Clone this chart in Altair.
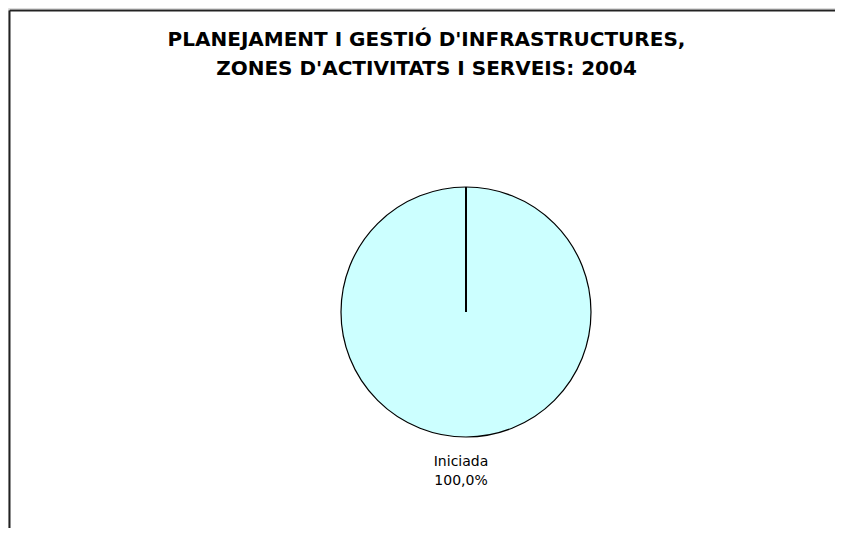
import altair as alt
import pandas as pd

categories = ["Iniciada"]
values = [100.0]
title_lines = ["PLANEJAMENT I GESTIÓ D'INFRASTRUCTURES,", "ZONES D'ACTIVITATS I SERVEIS: 2004"]

df = pd.DataFrame({"cat": categories, "val": values})
df["pct"] = df["val"] / df["val"].sum() * 100
df["label"] = df["cat"] + "\n" + df["pct"].map(lambda v: f"{v:.1f}".replace(".", ",")) + "%"

W, H = 827, 520
CX, CY, R = 458, 304, 125

base = alt.Chart(df)

pie = base.mark_arc(radius=R, stroke="black", strokeWidth=1.2, fill="#CCFFFF").encode(
    theta=alt.Theta("val:Q", stack=True),
    x=alt.value(CX),
    y=alt.value(CY),
)

edge = base.mark_rule(color="black", strokeWidth=2).encode(
    x=alt.value(CX), y=alt.value(CY - R), y2=alt.value(CY)
)

labels = base.mark_text(
    font="DejaVu Sans", fontSize=14, lineBreak="\n", lineHeight=19, align="center",
    baseline="middle", color="black"
).encode(text="label:N", x=alt.value(CX - 5), y=alt.value(CY + 150))

border_left = base.mark_rule(color="#222222", strokeWidth=2).encode(
    x=alt.value(1.5), y=alt.value(2.5), y2=alt.value(H + 10)
)
border_top = base.mark_rule(color="#222222", strokeWidth=2).encode(
    x=alt.value(1.5), x2=alt.value(W + 10), y=alt.value(2.5)
)

chart = alt.layer(border_left, border_top, pie, edge, labels).properties(
    width=W, height=H,
    autosize=alt.AutoSizeParams(type="none"),
    padding=0,
    title=alt.TitleParams(
        text=title_lines, font="DejaVu Sans", fontSize=20, fontWeight="bold",
        color="black", anchor="middle", frame="group", dy=95, lineHeight=29,
        baseline="bottom", dx=5
    ),
).configure_view(stroke=None).configure(background="white")

chart.save("out.html", embed_options={"renderer": "svg", "actions": False})
